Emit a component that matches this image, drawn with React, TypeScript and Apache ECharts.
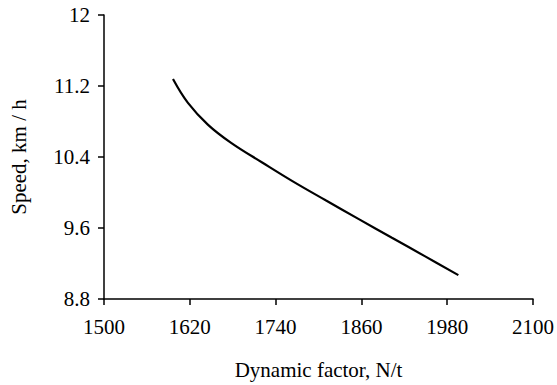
import React, { useEffect, useRef } from "react";
import * as echarts from "echarts";

const dynamicFactor = [1596.5, 1617.4, 1645.2, 1677.8, 1721.8, 1763.5, 1810, 1856.4, 1902.7, 1949.2, 1995.6];
const speed = [11.278, 11.009, 10.765, 10.559, 10.335, 10.128, 9.912, 9.7, 9.49, 9.28, 9.069];

const xTicks = { min: 1500, max: 2100, interval: 120 };
const yTicks = { min: 8.8, max: 12, interval: 0.8 };

export default function App() {
  const ref = useRef<HTMLDivElement>(null);
  useEffect(() => {
    if (!ref.current) return;
    const chart = echarts.init(ref.current, undefined, { renderer: "svg" });
    const font = "Liberation Serif";
    const fs = 21;
    const axisCommon = {
      axisLine: { show: true, lineStyle: { color: "#000", width: 1.5 } },
      axisTick: { show: true, inside: false, length: 6, lineStyle: { color: "#000", width: 1.5 } },
      splitLine: { show: false },
      axisLabel: { color: "#000", fontFamily: font, fontSize: fs },
      nameTextStyle: { color: "#000", fontFamily: font, fontSize: fs },
      nameLocation: "middle" as const,
    };
    chart.setOption({
      animation: false,
      backgroundColor: "#fff",
      grid: { left: 104, right: 22, top: 15, bottom: 85 },
      xAxis: {
        type: "value",
        ...axisCommon,
        min: xTicks.min,
        max: xTicks.max,
        interval: xTicks.interval,
        name: "Dynamic factor, N/t",
        nameGap: 60,
        axisLabel: {
          ...axisCommon.axisLabel,
          margin: 17,
          formatter: (v: number) => String(Math.round(v)),
        },
      },
      yAxis: {
        type: "value",
        ...axisCommon,
        min: yTicks.min,
        max: yTicks.max,
        interval: yTicks.interval,
        name: "Speed, km / h",
        nameGap: 75,
        axisLabel: {
          ...axisCommon.axisLabel,
          margin: 14,
          formatter: (v: number) => (Math.round(v * 10) / 10).toString(),
        },
      },
      series: [
        {
          type: "line",
          data: dynamicFactor.map((x, i) => [x, speed[i]]),
          smooth: 0.4,
          showSymbol: false,
          lineStyle: { color: "#000", width: 2.2 },
        },
      ],
    });
    return () => chart.dispose();
  }, []);
  return (
    <div
      ref={ref}
      style={{ position: "absolute", left: 0, top: 0, width: 557, height: 385 }}
    />
  );
}
